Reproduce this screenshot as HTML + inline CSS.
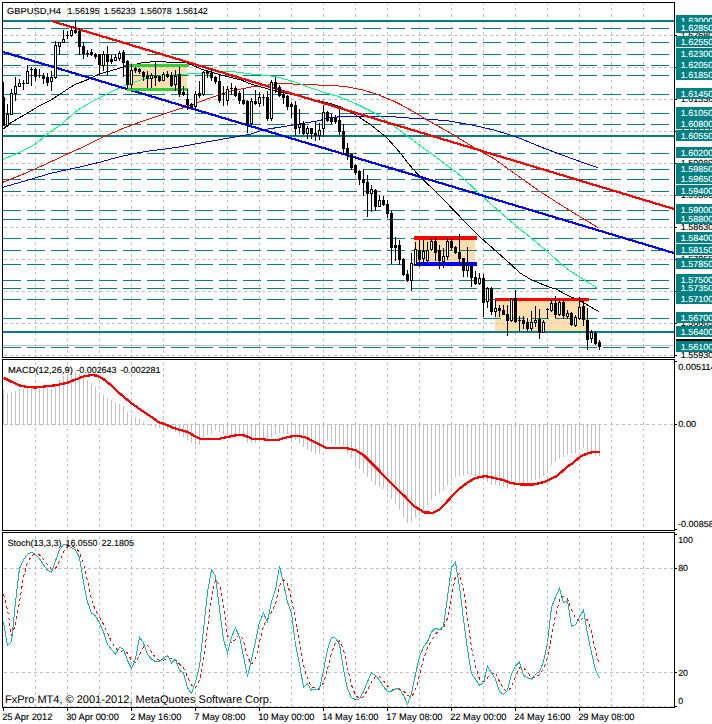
<!DOCTYPE html>
<html><head><meta charset="utf-8"><title>GBPUSD,H4</title>
<style>html,body{margin:0;padding:0;background:#fff}body{width:712px;height:724px;overflow:hidden;font-family:"Liberation Sans",sans-serif}svg{display:block}</style></head>
<body>
<svg width="712" height="724" viewBox="0 0 712 724" shape-rendering="crispEdges">
<defs>
<clipPath id="cm"><rect x="3" y="3" width="671" height="354"/></clipPath>
<clipPath id="c2"><rect x="3" y="360" width="671" height="170"/></clipPath>
<clipPath id="c3"><rect x="3" y="533" width="671" height="174"/></clipPath>
<clipPath id="cr"><rect x="675" y="0" width="37" height="724"/></clipPath>
</defs>
<rect width="712" height="724" fill="#fff"/>
<g clip-path="url(#cm)">
<line x1="35.5" y1="3" x2="35.5" y2="357" stroke="#c0c0c0" stroke-width="1" stroke-dasharray="3 3" stroke-dashoffset="1"/>
<line x1="67.5" y1="3" x2="67.5" y2="357" stroke="#c0c0c0" stroke-width="1" stroke-dasharray="3 3" stroke-dashoffset="1"/>
<line x1="99.5" y1="3" x2="99.5" y2="357" stroke="#c0c0c0" stroke-width="1" stroke-dasharray="3 3" stroke-dashoffset="1"/>
<line x1="131.5" y1="3" x2="131.5" y2="357" stroke="#c0c0c0" stroke-width="1" stroke-dasharray="3 3" stroke-dashoffset="1"/>
<line x1="163.5" y1="3" x2="163.5" y2="357" stroke="#c0c0c0" stroke-width="1" stroke-dasharray="3 3" stroke-dashoffset="1"/>
<line x1="195.5" y1="3" x2="195.5" y2="357" stroke="#c0c0c0" stroke-width="1" stroke-dasharray="3 3" stroke-dashoffset="1"/>
<line x1="227.5" y1="3" x2="227.5" y2="357" stroke="#c0c0c0" stroke-width="1" stroke-dasharray="3 3" stroke-dashoffset="1"/>
<line x1="259.5" y1="3" x2="259.5" y2="357" stroke="#c0c0c0" stroke-width="1" stroke-dasharray="3 3" stroke-dashoffset="1"/>
<line x1="291.5" y1="3" x2="291.5" y2="357" stroke="#c0c0c0" stroke-width="1" stroke-dasharray="3 3" stroke-dashoffset="1"/>
<line x1="323.5" y1="3" x2="323.5" y2="357" stroke="#c0c0c0" stroke-width="1" stroke-dasharray="3 3" stroke-dashoffset="1"/>
<line x1="355.5" y1="3" x2="355.5" y2="357" stroke="#c0c0c0" stroke-width="1" stroke-dasharray="3 3" stroke-dashoffset="1"/>
<line x1="387.5" y1="3" x2="387.5" y2="357" stroke="#c0c0c0" stroke-width="1" stroke-dasharray="3 3" stroke-dashoffset="1"/>
<line x1="419.5" y1="3" x2="419.5" y2="357" stroke="#c0c0c0" stroke-width="1" stroke-dasharray="3 3" stroke-dashoffset="1"/>
<line x1="451.5" y1="3" x2="451.5" y2="357" stroke="#c0c0c0" stroke-width="1" stroke-dasharray="3 3" stroke-dashoffset="1"/>
<line x1="483.5" y1="3" x2="483.5" y2="357" stroke="#c0c0c0" stroke-width="1" stroke-dasharray="3 3" stroke-dashoffset="1"/>
<line x1="515.5" y1="3" x2="515.5" y2="357" stroke="#c0c0c0" stroke-width="1" stroke-dasharray="3 3" stroke-dashoffset="1"/>
<line x1="547.5" y1="3" x2="547.5" y2="357" stroke="#c0c0c0" stroke-width="1" stroke-dasharray="3 3" stroke-dashoffset="1"/>
<line x1="579.5" y1="3" x2="579.5" y2="357" stroke="#c0c0c0" stroke-width="1" stroke-dasharray="3 3" stroke-dashoffset="1"/>
<line x1="611.5" y1="3" x2="611.5" y2="357" stroke="#c0c0c0" stroke-width="1" stroke-dasharray="3 3" stroke-dashoffset="1"/>
<line x1="643.5" y1="3" x2="643.5" y2="357" stroke="#c0c0c0" stroke-width="1" stroke-dasharray="3 3" stroke-dashoffset="1"/>
<line x1="3" y1="35.5" x2="674" y2="35.5" stroke="#c0c0c0" stroke-width="1" stroke-dasharray="3 3" stroke-dashoffset="5"/>
<line x1="3" y1="67.5" x2="674" y2="67.5" stroke="#c0c0c0" stroke-width="1" stroke-dasharray="3 3" stroke-dashoffset="5"/>
<line x1="3" y1="99.5" x2="674" y2="99.5" stroke="#c0c0c0" stroke-width="1" stroke-dasharray="3 3" stroke-dashoffset="5"/>
<line x1="3" y1="131.5" x2="674" y2="131.5" stroke="#c0c0c0" stroke-width="1" stroke-dasharray="3 3" stroke-dashoffset="5"/>
<line x1="3" y1="163.5" x2="674" y2="163.5" stroke="#c0c0c0" stroke-width="1" stroke-dasharray="3 3" stroke-dashoffset="5"/>
<line x1="3" y1="195.5" x2="674" y2="195.5" stroke="#c0c0c0" stroke-width="1" stroke-dasharray="3 3" stroke-dashoffset="5"/>
<line x1="3" y1="227.5" x2="674" y2="227.5" stroke="#c0c0c0" stroke-width="1" stroke-dasharray="3 3" stroke-dashoffset="5"/>
<line x1="3" y1="259.5" x2="674" y2="259.5" stroke="#c0c0c0" stroke-width="1" stroke-dasharray="3 3" stroke-dashoffset="5"/>
<line x1="3" y1="291.5" x2="674" y2="291.5" stroke="#c0c0c0" stroke-width="1" stroke-dasharray="3 3" stroke-dashoffset="5"/>
<line x1="3" y1="323.5" x2="674" y2="323.5" stroke="#c0c0c0" stroke-width="1" stroke-dasharray="3 3" stroke-dashoffset="5"/>
<line x1="3" y1="355.5" x2="674" y2="355.5" stroke="#c0c0c0" stroke-width="1" stroke-dasharray="3 3" stroke-dashoffset="5"/>
<rect x="127" y="67" width="60" height="21" fill="#FFDEAD"/>
<rect x="131" y="68" width="1" height="1" fill="#c4e29a"/>
<rect x="131" y="69" width="1" height="1" fill="#c4e29a"/>
<rect x="131" y="70" width="1" height="1" fill="#c4e29a"/>
<rect x="131" y="74" width="1" height="1" fill="#c4e29a"/>
<rect x="131" y="75" width="1" height="1" fill="#c4e29a"/>
<rect x="131" y="76" width="1" height="1" fill="#c4e29a"/>
<rect x="131" y="80" width="1" height="1" fill="#c4e29a"/>
<rect x="131" y="81" width="1" height="1" fill="#c4e29a"/>
<rect x="131" y="82" width="1" height="1" fill="#c4e29a"/>
<rect x="131" y="86" width="1" height="1" fill="#c4e29a"/>
<rect x="131" y="87" width="1" height="1" fill="#c4e29a"/>
<rect x="163" y="68" width="1" height="1" fill="#c4e29a"/>
<rect x="163" y="69" width="1" height="1" fill="#c4e29a"/>
<rect x="163" y="70" width="1" height="1" fill="#c4e29a"/>
<rect x="163" y="74" width="1" height="1" fill="#c4e29a"/>
<rect x="163" y="75" width="1" height="1" fill="#c4e29a"/>
<rect x="163" y="76" width="1" height="1" fill="#c4e29a"/>
<rect x="163" y="80" width="1" height="1" fill="#c4e29a"/>
<rect x="163" y="81" width="1" height="1" fill="#c4e29a"/>
<rect x="163" y="82" width="1" height="1" fill="#c4e29a"/>
<rect x="163" y="86" width="1" height="1" fill="#c4e29a"/>
<rect x="163" y="87" width="1" height="1" fill="#c4e29a"/>
<rect x="130" y="67" width="1" height="1" fill="#c6cbd6"/>
<rect x="131" y="67" width="1" height="1" fill="#c6cbd6"/>
<rect x="132" y="67" width="1" height="1" fill="#c6cbd6"/>
<rect x="136" y="67" width="1" height="1" fill="#c6cbd6"/>
<rect x="137" y="67" width="1" height="1" fill="#c6cbd6"/>
<rect x="138" y="67" width="1" height="1" fill="#c6cbd6"/>
<rect x="142" y="67" width="1" height="1" fill="#c6cbd6"/>
<rect x="143" y="67" width="1" height="1" fill="#c6cbd6"/>
<rect x="144" y="67" width="1" height="1" fill="#c6cbd6"/>
<rect x="148" y="67" width="1" height="1" fill="#c6cbd6"/>
<rect x="149" y="67" width="1" height="1" fill="#c6cbd6"/>
<rect x="150" y="67" width="1" height="1" fill="#c6cbd6"/>
<rect x="154" y="67" width="1" height="1" fill="#c6cbd6"/>
<rect x="155" y="67" width="1" height="1" fill="#c6cbd6"/>
<rect x="156" y="67" width="1" height="1" fill="#c6cbd6"/>
<rect x="160" y="67" width="1" height="1" fill="#c6cbd6"/>
<rect x="161" y="67" width="1" height="1" fill="#c6cbd6"/>
<rect x="162" y="67" width="1" height="1" fill="#c6cbd6"/>
<rect x="166" y="67" width="1" height="1" fill="#c6cbd6"/>
<rect x="167" y="67" width="1" height="1" fill="#c6cbd6"/>
<rect x="168" y="67" width="1" height="1" fill="#c6cbd6"/>
<rect x="172" y="67" width="1" height="1" fill="#c6cbd6"/>
<rect x="173" y="67" width="1" height="1" fill="#c6cbd6"/>
<rect x="174" y="67" width="1" height="1" fill="#c6cbd6"/>
<rect x="178" y="67" width="1" height="1" fill="#c6cbd6"/>
<rect x="179" y="67" width="1" height="1" fill="#c6cbd6"/>
<rect x="180" y="67" width="1" height="1" fill="#c6cbd6"/>
<rect x="184" y="67" width="1" height="1" fill="#c6cbd6"/>
<rect x="185" y="67" width="1" height="1" fill="#c6cbd6"/>
<rect x="186" y="67" width="1" height="1" fill="#c6cbd6"/>
<rect x="414" y="240" width="61" height="22" fill="#FFDEAD"/>
<rect x="419" y="242" width="1" height="1" fill="#c4e29a"/>
<rect x="419" y="243" width="1" height="1" fill="#c4e29a"/>
<rect x="419" y="244" width="1" height="1" fill="#c4e29a"/>
<rect x="419" y="248" width="1" height="1" fill="#c4e29a"/>
<rect x="419" y="249" width="1" height="1" fill="#c4e29a"/>
<rect x="419" y="250" width="1" height="1" fill="#c4e29a"/>
<rect x="419" y="254" width="1" height="1" fill="#c4e29a"/>
<rect x="419" y="255" width="1" height="1" fill="#c4e29a"/>
<rect x="419" y="256" width="1" height="1" fill="#c4e29a"/>
<rect x="419" y="260" width="1" height="1" fill="#c4e29a"/>
<rect x="419" y="261" width="1" height="1" fill="#c4e29a"/>
<rect x="451" y="242" width="1" height="1" fill="#c4e29a"/>
<rect x="451" y="243" width="1" height="1" fill="#c4e29a"/>
<rect x="451" y="244" width="1" height="1" fill="#c4e29a"/>
<rect x="451" y="248" width="1" height="1" fill="#c4e29a"/>
<rect x="451" y="249" width="1" height="1" fill="#c4e29a"/>
<rect x="451" y="250" width="1" height="1" fill="#c4e29a"/>
<rect x="451" y="254" width="1" height="1" fill="#c4e29a"/>
<rect x="451" y="255" width="1" height="1" fill="#c4e29a"/>
<rect x="451" y="256" width="1" height="1" fill="#c4e29a"/>
<rect x="451" y="260" width="1" height="1" fill="#c4e29a"/>
<rect x="451" y="261" width="1" height="1" fill="#c4e29a"/>
<rect x="414" y="259" width="1" height="1" fill="#c6cbd6"/>
<rect x="418" y="259" width="1" height="1" fill="#c6cbd6"/>
<rect x="419" y="259" width="1" height="1" fill="#c6cbd6"/>
<rect x="420" y="259" width="1" height="1" fill="#c6cbd6"/>
<rect x="424" y="259" width="1" height="1" fill="#c6cbd6"/>
<rect x="425" y="259" width="1" height="1" fill="#c6cbd6"/>
<rect x="426" y="259" width="1" height="1" fill="#c6cbd6"/>
<rect x="430" y="259" width="1" height="1" fill="#c6cbd6"/>
<rect x="431" y="259" width="1" height="1" fill="#c6cbd6"/>
<rect x="432" y="259" width="1" height="1" fill="#c6cbd6"/>
<rect x="436" y="259" width="1" height="1" fill="#c6cbd6"/>
<rect x="437" y="259" width="1" height="1" fill="#c6cbd6"/>
<rect x="438" y="259" width="1" height="1" fill="#c6cbd6"/>
<rect x="442" y="259" width="1" height="1" fill="#c6cbd6"/>
<rect x="443" y="259" width="1" height="1" fill="#c6cbd6"/>
<rect x="444" y="259" width="1" height="1" fill="#c6cbd6"/>
<rect x="448" y="259" width="1" height="1" fill="#c6cbd6"/>
<rect x="449" y="259" width="1" height="1" fill="#c6cbd6"/>
<rect x="450" y="259" width="1" height="1" fill="#c6cbd6"/>
<rect x="454" y="259" width="1" height="1" fill="#c6cbd6"/>
<rect x="455" y="259" width="1" height="1" fill="#c6cbd6"/>
<rect x="456" y="259" width="1" height="1" fill="#c6cbd6"/>
<rect x="460" y="259" width="1" height="1" fill="#c6cbd6"/>
<rect x="461" y="259" width="1" height="1" fill="#c6cbd6"/>
<rect x="462" y="259" width="1" height="1" fill="#c6cbd6"/>
<rect x="466" y="259" width="1" height="1" fill="#c6cbd6"/>
<rect x="467" y="259" width="1" height="1" fill="#c6cbd6"/>
<rect x="468" y="259" width="1" height="1" fill="#c6cbd6"/>
<rect x="472" y="259" width="1" height="1" fill="#c6cbd6"/>
<rect x="473" y="259" width="1" height="1" fill="#c6cbd6"/>
<rect x="474" y="259" width="1" height="1" fill="#c6cbd6"/>
<rect x="495" y="301" width="92" height="30" fill="#FFDEAD"/>
<rect x="515" y="302" width="1" height="1" fill="#c4e29a"/>
<rect x="515" y="303" width="1" height="1" fill="#c4e29a"/>
<rect x="515" y="304" width="1" height="1" fill="#c4e29a"/>
<rect x="515" y="308" width="1" height="1" fill="#c4e29a"/>
<rect x="515" y="309" width="1" height="1" fill="#c4e29a"/>
<rect x="515" y="310" width="1" height="1" fill="#c4e29a"/>
<rect x="515" y="314" width="1" height="1" fill="#c4e29a"/>
<rect x="515" y="315" width="1" height="1" fill="#c4e29a"/>
<rect x="515" y="316" width="1" height="1" fill="#c4e29a"/>
<rect x="515" y="320" width="1" height="1" fill="#c4e29a"/>
<rect x="515" y="321" width="1" height="1" fill="#c4e29a"/>
<rect x="515" y="322" width="1" height="1" fill="#c4e29a"/>
<rect x="515" y="326" width="1" height="1" fill="#c4e29a"/>
<rect x="515" y="327" width="1" height="1" fill="#c4e29a"/>
<rect x="515" y="328" width="1" height="1" fill="#c4e29a"/>
<rect x="547" y="302" width="1" height="1" fill="#c4e29a"/>
<rect x="547" y="303" width="1" height="1" fill="#c4e29a"/>
<rect x="547" y="304" width="1" height="1" fill="#c4e29a"/>
<rect x="547" y="308" width="1" height="1" fill="#c4e29a"/>
<rect x="547" y="309" width="1" height="1" fill="#c4e29a"/>
<rect x="547" y="310" width="1" height="1" fill="#c4e29a"/>
<rect x="547" y="314" width="1" height="1" fill="#c4e29a"/>
<rect x="547" y="315" width="1" height="1" fill="#c4e29a"/>
<rect x="547" y="316" width="1" height="1" fill="#c4e29a"/>
<rect x="547" y="320" width="1" height="1" fill="#c4e29a"/>
<rect x="547" y="321" width="1" height="1" fill="#c4e29a"/>
<rect x="547" y="322" width="1" height="1" fill="#c4e29a"/>
<rect x="547" y="326" width="1" height="1" fill="#c4e29a"/>
<rect x="547" y="327" width="1" height="1" fill="#c4e29a"/>
<rect x="547" y="328" width="1" height="1" fill="#c4e29a"/>
<rect x="579" y="302" width="1" height="1" fill="#c4e29a"/>
<rect x="579" y="303" width="1" height="1" fill="#c4e29a"/>
<rect x="579" y="304" width="1" height="1" fill="#c4e29a"/>
<rect x="579" y="308" width="1" height="1" fill="#c4e29a"/>
<rect x="579" y="309" width="1" height="1" fill="#c4e29a"/>
<rect x="579" y="310" width="1" height="1" fill="#c4e29a"/>
<rect x="579" y="314" width="1" height="1" fill="#c4e29a"/>
<rect x="579" y="315" width="1" height="1" fill="#c4e29a"/>
<rect x="579" y="316" width="1" height="1" fill="#c4e29a"/>
<rect x="579" y="320" width="1" height="1" fill="#c4e29a"/>
<rect x="579" y="321" width="1" height="1" fill="#c4e29a"/>
<rect x="579" y="322" width="1" height="1" fill="#c4e29a"/>
<rect x="579" y="326" width="1" height="1" fill="#c4e29a"/>
<rect x="579" y="327" width="1" height="1" fill="#c4e29a"/>
<rect x="579" y="328" width="1" height="1" fill="#c4e29a"/>
<rect x="496" y="323" width="1" height="1" fill="#c6cbd6"/>
<rect x="497" y="323" width="1" height="1" fill="#c6cbd6"/>
<rect x="498" y="323" width="1" height="1" fill="#c6cbd6"/>
<rect x="502" y="323" width="1" height="1" fill="#c6cbd6"/>
<rect x="503" y="323" width="1" height="1" fill="#c6cbd6"/>
<rect x="504" y="323" width="1" height="1" fill="#c6cbd6"/>
<rect x="508" y="323" width="1" height="1" fill="#c6cbd6"/>
<rect x="509" y="323" width="1" height="1" fill="#c6cbd6"/>
<rect x="510" y="323" width="1" height="1" fill="#c6cbd6"/>
<rect x="514" y="323" width="1" height="1" fill="#c6cbd6"/>
<rect x="515" y="323" width="1" height="1" fill="#c6cbd6"/>
<rect x="516" y="323" width="1" height="1" fill="#c6cbd6"/>
<rect x="520" y="323" width="1" height="1" fill="#c6cbd6"/>
<rect x="521" y="323" width="1" height="1" fill="#c6cbd6"/>
<rect x="522" y="323" width="1" height="1" fill="#c6cbd6"/>
<rect x="526" y="323" width="1" height="1" fill="#c6cbd6"/>
<rect x="527" y="323" width="1" height="1" fill="#c6cbd6"/>
<rect x="528" y="323" width="1" height="1" fill="#c6cbd6"/>
<rect x="532" y="323" width="1" height="1" fill="#c6cbd6"/>
<rect x="533" y="323" width="1" height="1" fill="#c6cbd6"/>
<rect x="534" y="323" width="1" height="1" fill="#c6cbd6"/>
<rect x="538" y="323" width="1" height="1" fill="#c6cbd6"/>
<rect x="539" y="323" width="1" height="1" fill="#c6cbd6"/>
<rect x="540" y="323" width="1" height="1" fill="#c6cbd6"/>
<rect x="544" y="323" width="1" height="1" fill="#c6cbd6"/>
<rect x="545" y="323" width="1" height="1" fill="#c6cbd6"/>
<rect x="546" y="323" width="1" height="1" fill="#c6cbd6"/>
<rect x="550" y="323" width="1" height="1" fill="#c6cbd6"/>
<rect x="551" y="323" width="1" height="1" fill="#c6cbd6"/>
<rect x="552" y="323" width="1" height="1" fill="#c6cbd6"/>
<rect x="556" y="323" width="1" height="1" fill="#c6cbd6"/>
<rect x="557" y="323" width="1" height="1" fill="#c6cbd6"/>
<rect x="558" y="323" width="1" height="1" fill="#c6cbd6"/>
<rect x="562" y="323" width="1" height="1" fill="#c6cbd6"/>
<rect x="563" y="323" width="1" height="1" fill="#c6cbd6"/>
<rect x="564" y="323" width="1" height="1" fill="#c6cbd6"/>
<rect x="568" y="323" width="1" height="1" fill="#c6cbd6"/>
<rect x="569" y="323" width="1" height="1" fill="#c6cbd6"/>
<rect x="570" y="323" width="1" height="1" fill="#c6cbd6"/>
<rect x="574" y="323" width="1" height="1" fill="#c6cbd6"/>
<rect x="575" y="323" width="1" height="1" fill="#c6cbd6"/>
<rect x="576" y="323" width="1" height="1" fill="#c6cbd6"/>
<rect x="580" y="323" width="1" height="1" fill="#c6cbd6"/>
<rect x="581" y="323" width="1" height="1" fill="#c6cbd6"/>
<rect x="582" y="323" width="1" height="1" fill="#c6cbd6"/>
<rect x="586" y="323" width="1" height="1" fill="#c6cbd6"/>
<rect x="3" y="20" width="671" height="2" fill="#008080" />
<line x1="3" y1="28.5" x2="674" y2="28.5" stroke="#008080" stroke-width="1" stroke-dasharray="18 6"/>
<line x1="3" y1="42.5" x2="674" y2="42.5" stroke="#008080" stroke-width="1" stroke-dasharray="18 6"/>
<line x1="3" y1="54.5" x2="674" y2="54.5" stroke="#008080" stroke-width="1" stroke-dasharray="18 6"/>
<line x1="3" y1="65.5" x2="674" y2="65.5" stroke="#008080" stroke-width="1" stroke-dasharray="18 6"/>
<rect x="127" y="75" width="60" height="1" fill="#fff" />
<line x1="3" y1="75.5" x2="674" y2="75.5" stroke="#008080" stroke-width="1" stroke-dasharray="18 6"/>
<line x1="3" y1="94.5" x2="674" y2="94.5" stroke="#008080" stroke-width="1" stroke-dasharray="18 6"/>
<line x1="3" y1="113.5" x2="674" y2="113.5" stroke="#008080" stroke-width="1" stroke-dasharray="18 6"/>
<line x1="3" y1="124.5" x2="674" y2="124.5" stroke="#008080" stroke-width="1" stroke-dasharray="18 6"/>
<rect x="3" y="135" width="671" height="2" fill="#008080" />
<line x1="3" y1="153.5" x2="674" y2="153.5" stroke="#008080" stroke-width="1" stroke-dasharray="18 6"/>
<line x1="3" y1="169.5" x2="674" y2="169.5" stroke="#008080" stroke-width="1" stroke-dasharray="18 6"/>
<line x1="3" y1="179.5" x2="674" y2="179.5" stroke="#008080" stroke-width="1" stroke-dasharray="18 6"/>
<line x1="3" y1="191.5" x2="674" y2="191.5" stroke="#008080" stroke-width="1" stroke-dasharray="18 6"/>
<line x1="3" y1="210.5" x2="674" y2="210.5" stroke="#008080" stroke-width="1" stroke-dasharray="18 6"/>
<line x1="3" y1="219.5" x2="674" y2="219.5" stroke="#008080" stroke-width="1" stroke-dasharray="18 6"/>
<line x1="3" y1="238.5" x2="674" y2="238.5" stroke="#008080" stroke-width="1" stroke-dasharray="18 6"/>
<rect x="414" y="250" width="61" height="1" fill="#fff" />
<line x1="3" y1="250.5" x2="674" y2="250.5" stroke="#008080" stroke-width="1" stroke-dasharray="18 6"/>
<line x1="3" y1="264.5" x2="674" y2="264.5" stroke="#008080" stroke-width="1" stroke-dasharray="18 6"/>
<line x1="3" y1="280.5" x2="674" y2="280.5" stroke="#008080" stroke-width="1" stroke-dasharray="18 6"/>
<line x1="3" y1="288.5" x2="674" y2="288.5" stroke="#008080" stroke-width="1" stroke-dasharray="18 6"/>
<line x1="3" y1="299.5" x2="674" y2="299.5" stroke="#008080" stroke-width="1" stroke-dasharray="18 6"/>
<rect x="495" y="318" width="92" height="1" fill="#fff" />
<line x1="3" y1="318.5" x2="674" y2="318.5" stroke="#008080" stroke-width="1" stroke-dasharray="18 6"/>
<rect x="3" y="331" width="671" height="2" fill="#008080" />
<line x1="3" y1="347.5" x2="674" y2="347.5" stroke="#008080" stroke-width="1" stroke-dasharray="18 6"/>
<rect x="3" y="345" width="671" height="1" fill="#c0c0c0" />
<polyline points="3.0,187.2 25.3,180.9 50.6,173.3 68.3,169.5 83.4,166.2 101.1,161.9 116.3,157.6 134.0,153.6 151.7,150.6 165.0,149.0 180.0,146.8 209.7,141.4 249.5,134.4 264.9,129.6 289.7,125.5 313.0,121.7 320.0,120.5 326.6,118.2 344.9,116.2 369.7,116.0 389.6,116.2 400.0,117.5 423.6,118.9 447.2,120.7 470.8,124.8 494.4,130.1 518.0,137.5 541.6,147.3 565.2,156.1 582.9,162.6 598.2,167.9" fill="none" stroke="#0000ff" stroke-width="1" />
<polyline points="3.0,182.2 25.3,173.3 50.6,161.9 68.3,153.6 83.4,146.8 101.1,137.9 121.3,129.1 141.6,121.5 161.8,114.7 180.0,108.8 187.0,106.6 214.7,96.3 231.0,91.3 249.5,87.2 256.6,86.5 281.4,83.2 293.0,84.0 311.3,84.9 329.5,85.2 345.0,86.5 363.0,90.0 376.4,94.1 393.0,100.8 400.0,104.2 414.7,112.4 429.5,121.3 453.1,134.6 473.7,147.3 494.4,159.1 518.0,175.9 538.6,190.6 559.3,203.9 582.9,218.6 598.2,227.5" fill="none" stroke="#ff0000" stroke-width="1" />
<polyline points="3.0,159.4 17.7,153.1 35.4,144.2 50.6,131.6 61.9,124.0 75.8,111.4 89.5,102.9 100.0,97.5 123.0,86.3 143.0,79.3 160.0,76.0 187.0,74.0 203.0,73.0 225.5,71.1 240.0,72.4 249.5,73.9 261.5,74.9 275.6,76.6 294.7,81.9 311.3,88.2 329.5,94.0 336.6,95.8 355.6,103.6 376.4,114.0 391.3,124.0 400.0,130.7 414.7,141.4 435.4,156.7 459.0,174.4 479.6,193.6 497.3,209.8 518.0,227.5 532.7,239.3 546.5,250.8 558.1,261.5 569.7,270.7 583.0,279.0 597.1,288.1" fill="none" stroke="#00fa7a" stroke-width="1" />
<polyline points="3.0,129.2 10.1,123.3 17.0,119.0 25.0,114.6 32.0,110.3 38.0,106.6 51.8,99.5 58.0,95.4 74.6,84.6 80.0,82.6 89.5,78.8 100.0,73.8 123.0,67.2 141.0,63.0 155.0,61.4 169.5,62.2 187.3,63.0 203.0,69.8 226.0,76.4 240.0,79.6 249.5,83.5 256.6,85.7 269.8,89.5 290.0,94.0 314.6,99.8 329.5,103.4 340.0,106.6 355.6,114.9 369.7,124.0 386.3,137.2 399.6,152.2 409.5,164.9 417.7,174.4 434.6,190.7 447.8,204.0 459.0,215.7 473.0,230.0 482.6,239.3 494.7,249.9 509.6,263.2 520.0,273.0 530.0,279.0 539.9,283.4 550.7,287.7 555.6,288.9 569.7,296.4 581.3,301.3 589.6,306.3 598.7,311.6" fill="none" stroke="#000" stroke-width="1" />
<polygon points="51.5,19.85 674,207.838 674,210.138 51.5,22.15" fill="#ff0000"/>
<polygon points="3,50.7731 674,251.8718 674,254.17180000000002 3,53.0731" fill="#0000ff"/>
<rect x="127" y="64" width="62" height="3" fill="#32CD32" />
<rect x="127" y="88" width="61" height="3" fill="#32CD32" />
<rect x="414" y="236" width="63" height="4" fill="#ff0000" />
<rect x="414" y="262" width="63" height="4" fill="#0000ff" />
<rect x="495" y="298" width="94" height="3" fill="#ff0000" />
<rect x="3" y="82" width="1" height="44" fill="#000"/>
<rect x="2" y="97" width="3" height="29" fill="#000"/>
<rect x="7" y="104" width="1" height="23" fill="#000"/>
<rect x="6" y="114" width="3" height="12" fill="#000"/>
<rect x="7" y="115" width="1" height="10" fill="#fff"/>
<rect x="11" y="89" width="1" height="26" fill="#000"/>
<rect x="10" y="93" width="3" height="22" fill="#000"/>
<rect x="11" y="94" width="1" height="20" fill="#fff"/>
<rect x="15" y="77" width="1" height="24" fill="#000"/>
<rect x="14" y="86" width="3" height="8" fill="#000"/>
<rect x="15" y="87" width="1" height="6" fill="#fff"/>
<rect x="19" y="79" width="1" height="8" fill="#000"/>
<rect x="18" y="83" width="3" height="4" fill="#000"/>
<rect x="19" y="84" width="1" height="2" fill="#fff"/>
<rect x="23" y="80" width="1" height="10" fill="#000"/>
<rect x="22" y="83" width="3" height="1" fill="#000" />
<rect x="27" y="65" width="1" height="19" fill="#000"/>
<rect x="26" y="71" width="3" height="13" fill="#000"/>
<rect x="27" y="72" width="1" height="11" fill="#fff"/>
<rect x="31" y="67" width="1" height="19" fill="#000"/>
<rect x="30" y="69" width="3" height="1" fill="#000" />
<rect x="35" y="68" width="1" height="13" fill="#000"/>
<rect x="34" y="69" width="3" height="8" fill="#000"/>
<rect x="39" y="69" width="1" height="9" fill="#000"/>
<rect x="38" y="75" width="3" height="1" fill="#000" />
<rect x="43" y="73" width="1" height="11" fill="#000"/>
<rect x="42" y="76" width="3" height="3" fill="#000"/>
<rect x="47" y="73" width="1" height="13" fill="#000"/>
<rect x="46" y="77" width="3" height="6" fill="#000"/>
<rect x="51" y="71" width="1" height="20" fill="#000"/>
<rect x="50" y="77" width="3" height="5" fill="#000"/>
<rect x="51" y="78" width="1" height="3" fill="#fff"/>
<rect x="55" y="41" width="1" height="38" fill="#000"/>
<rect x="54" y="45" width="3" height="33" fill="#000"/>
<rect x="55" y="46" width="1" height="31" fill="#fff"/>
<rect x="59" y="42" width="1" height="13" fill="#000"/>
<rect x="58" y="42" width="3" height="5" fill="#000"/>
<rect x="59" y="43" width="1" height="3" fill="#fff"/>
<rect x="63" y="30" width="1" height="13" fill="#000"/>
<rect x="62" y="39" width="3" height="4" fill="#000"/>
<rect x="63" y="40" width="1" height="2" fill="#fff"/>
<rect x="67" y="31" width="1" height="8" fill="#000"/>
<rect x="66" y="35" width="3" height="1" fill="#000" />
<rect x="71" y="26" width="1" height="11" fill="#000"/>
<rect x="70" y="30" width="3" height="6" fill="#000"/>
<rect x="71" y="31" width="1" height="4" fill="#fff"/>
<rect x="75" y="20" width="1" height="14" fill="#000"/>
<rect x="74" y="30" width="3" height="3" fill="#000"/>
<rect x="79" y="28" width="1" height="27" fill="#000"/>
<rect x="78" y="31" width="3" height="16" fill="#000"/>
<rect x="83" y="42" width="1" height="17" fill="#000"/>
<rect x="82" y="46" width="3" height="8" fill="#000"/>
<rect x="87" y="50" width="1" height="7" fill="#000"/>
<rect x="86" y="53" width="3" height="1" fill="#000" />
<rect x="91" y="49" width="1" height="7" fill="#000"/>
<rect x="90" y="52" width="3" height="3" fill="#000"/>
<rect x="95" y="53" width="1" height="6" fill="#000"/>
<rect x="94" y="54" width="3" height="3" fill="#000"/>
<rect x="99" y="54" width="1" height="20" fill="#000"/>
<rect x="98" y="54" width="3" height="11" fill="#000"/>
<rect x="103" y="51" width="1" height="20" fill="#000"/>
<rect x="102" y="54" width="3" height="12" fill="#000"/>
<rect x="103" y="55" width="1" height="10" fill="#fff"/>
<rect x="107" y="46" width="1" height="30" fill="#000"/>
<rect x="106" y="54" width="3" height="8" fill="#000"/>
<rect x="111" y="55" width="1" height="9" fill="#000"/>
<rect x="110" y="59" width="3" height="3" fill="#000"/>
<rect x="115" y="54" width="1" height="7" fill="#000"/>
<rect x="114" y="57" width="3" height="4" fill="#000"/>
<rect x="115" y="58" width="1" height="2" fill="#fff"/>
<rect x="119" y="51" width="1" height="10" fill="#000"/>
<rect x="118" y="53" width="3" height="6" fill="#000"/>
<rect x="119" y="54" width="1" height="4" fill="#fff"/>
<rect x="123" y="50" width="1" height="27" fill="#000"/>
<rect x="122" y="52" width="3" height="11" fill="#000"/>
<rect x="127" y="60" width="1" height="29" fill="#000"/>
<rect x="126" y="61" width="3" height="24" fill="#000"/>
<rect x="131" y="64" width="1" height="25" fill="#000"/>
<rect x="130" y="70" width="3" height="15" fill="#000"/>
<rect x="131" y="71" width="1" height="13" fill="#fff"/>
<rect x="135" y="67" width="1" height="6" fill="#000"/>
<rect x="134" y="68" width="3" height="3" fill="#000"/>
<rect x="139" y="68" width="1" height="6" fill="#000"/>
<rect x="138" y="69" width="3" height="3" fill="#000"/>
<rect x="143" y="71" width="1" height="10" fill="#000"/>
<rect x="142" y="72" width="3" height="5" fill="#000"/>
<rect x="147" y="71" width="1" height="17" fill="#000"/>
<rect x="146" y="75" width="3" height="4" fill="#000"/>
<rect x="151" y="73" width="1" height="15" fill="#000"/>
<rect x="150" y="75" width="3" height="4" fill="#000"/>
<rect x="151" y="76" width="1" height="2" fill="#fff"/>
<rect x="155" y="61" width="1" height="25" fill="#000"/>
<rect x="154" y="76" width="3" height="2" fill="#000"/>
<rect x="159" y="76" width="1" height="6" fill="#000"/>
<rect x="158" y="76" width="3" height="5" fill="#000"/>
<rect x="163" y="72" width="1" height="9" fill="#000"/>
<rect x="162" y="74" width="3" height="7" fill="#000"/>
<rect x="163" y="75" width="1" height="5" fill="#fff"/>
<rect x="167" y="71" width="1" height="7" fill="#000"/>
<rect x="166" y="74" width="3" height="3" fill="#000"/>
<rect x="171" y="72" width="1" height="15" fill="#000"/>
<rect x="170" y="75" width="3" height="11" fill="#000"/>
<rect x="175" y="70" width="1" height="21" fill="#000"/>
<rect x="174" y="76" width="3" height="9" fill="#000"/>
<rect x="175" y="77" width="1" height="7" fill="#fff"/>
<rect x="179" y="67" width="1" height="30" fill="#000"/>
<rect x="178" y="74" width="3" height="20" fill="#000"/>
<rect x="183" y="86" width="1" height="10" fill="#000"/>
<rect x="182" y="92" width="3" height="3" fill="#000"/>
<rect x="187" y="89" width="1" height="21" fill="#000"/>
<rect x="186" y="99" width="3" height="6" fill="#000"/>
<rect x="191" y="103" width="1" height="5" fill="#000"/>
<rect x="190" y="104" width="3" height="4" fill="#000"/>
<rect x="195" y="91" width="1" height="20" fill="#000"/>
<rect x="194" y="94" width="3" height="13" fill="#000"/>
<rect x="195" y="95" width="1" height="11" fill="#fff"/>
<rect x="199" y="81" width="1" height="17" fill="#000"/>
<rect x="198" y="93" width="3" height="3" fill="#000"/>
<rect x="203" y="71" width="1" height="25" fill="#000"/>
<rect x="202" y="72" width="3" height="23" fill="#000"/>
<rect x="203" y="73" width="1" height="21" fill="#fff"/>
<rect x="207" y="70" width="1" height="8" fill="#000"/>
<rect x="206" y="71" width="3" height="3" fill="#000"/>
<rect x="211" y="69" width="1" height="12" fill="#000"/>
<rect x="210" y="73" width="3" height="5" fill="#000"/>
<rect x="215" y="76" width="1" height="8" fill="#000"/>
<rect x="214" y="77" width="3" height="5" fill="#000"/>
<rect x="219" y="75" width="1" height="28" fill="#000"/>
<rect x="218" y="81" width="3" height="20" fill="#000"/>
<rect x="223" y="86" width="1" height="20" fill="#000"/>
<rect x="222" y="93" width="3" height="1" fill="#000" />
<rect x="227" y="86" width="1" height="19" fill="#000"/>
<rect x="226" y="89" width="3" height="12" fill="#000"/>
<rect x="227" y="90" width="1" height="10" fill="#fff"/>
<rect x="231" y="83" width="1" height="12" fill="#000"/>
<rect x="230" y="88" width="3" height="1" fill="#000" />
<rect x="235" y="86" width="1" height="11" fill="#000"/>
<rect x="234" y="88" width="3" height="8" fill="#000"/>
<rect x="239" y="91" width="1" height="13" fill="#000"/>
<rect x="238" y="93" width="3" height="8" fill="#000"/>
<rect x="243" y="89" width="1" height="16" fill="#000"/>
<rect x="242" y="100" width="3" height="4" fill="#000"/>
<rect x="247" y="100" width="1" height="33" fill="#000"/>
<rect x="246" y="101" width="3" height="23" fill="#000"/>
<rect x="251" y="98" width="1" height="27" fill="#000"/>
<rect x="250" y="101" width="3" height="23" fill="#000"/>
<rect x="251" y="102" width="1" height="21" fill="#fff"/>
<rect x="255" y="90" width="1" height="15" fill="#000"/>
<rect x="254" y="101" width="3" height="3" fill="#000"/>
<rect x="259" y="92" width="1" height="15" fill="#000"/>
<rect x="258" y="97" width="3" height="7" fill="#000"/>
<rect x="259" y="98" width="1" height="5" fill="#fff"/>
<rect x="263" y="94" width="1" height="12" fill="#000"/>
<rect x="262" y="97" width="3" height="1" fill="#000" />
<rect x="267" y="91" width="1" height="30" fill="#000"/>
<rect x="266" y="97" width="3" height="22" fill="#000"/>
<rect x="271" y="80" width="1" height="41" fill="#000"/>
<rect x="270" y="82" width="3" height="37" fill="#000"/>
<rect x="271" y="83" width="1" height="35" fill="#fff"/>
<rect x="275" y="77" width="1" height="16" fill="#000"/>
<rect x="274" y="82" width="3" height="7" fill="#000"/>
<rect x="279" y="85" width="1" height="12" fill="#000"/>
<rect x="278" y="87" width="3" height="9" fill="#000"/>
<rect x="283" y="91" width="1" height="13" fill="#000"/>
<rect x="282" y="94" width="3" height="4" fill="#000"/>
<rect x="287" y="95" width="1" height="15" fill="#000"/>
<rect x="286" y="96" width="3" height="11" fill="#000"/>
<rect x="291" y="102" width="1" height="16" fill="#000"/>
<rect x="290" y="104" width="3" height="3" fill="#000"/>
<rect x="295" y="101" width="1" height="35" fill="#000"/>
<rect x="294" y="105" width="3" height="24" fill="#000"/>
<rect x="299" y="109" width="1" height="25" fill="#000"/>
<rect x="298" y="124" width="3" height="4" fill="#000"/>
<rect x="299" y="125" width="1" height="2" fill="#fff"/>
<rect x="303" y="121" width="1" height="14" fill="#000"/>
<rect x="302" y="123" width="3" height="11" fill="#000"/>
<rect x="307" y="126" width="1" height="13" fill="#000"/>
<rect x="306" y="128" width="3" height="6" fill="#000"/>
<rect x="307" y="129" width="1" height="4" fill="#fff"/>
<rect x="311" y="128" width="1" height="11" fill="#000"/>
<rect x="310" y="128" width="3" height="6" fill="#000"/>
<rect x="315" y="122" width="1" height="19" fill="#000"/>
<rect x="314" y="133" width="3" height="3" fill="#000"/>
<rect x="319" y="123" width="1" height="17" fill="#000"/>
<rect x="318" y="130" width="3" height="6" fill="#000"/>
<rect x="319" y="131" width="1" height="4" fill="#fff"/>
<rect x="323" y="105" width="1" height="32" fill="#000"/>
<rect x="322" y="112" width="3" height="17" fill="#000"/>
<rect x="323" y="113" width="1" height="15" fill="#fff"/>
<rect x="327" y="111" width="1" height="11" fill="#000"/>
<rect x="326" y="112" width="3" height="9" fill="#000"/>
<rect x="331" y="114" width="1" height="10" fill="#000"/>
<rect x="330" y="118" width="3" height="4" fill="#000"/>
<rect x="335" y="115" width="1" height="9" fill="#000"/>
<rect x="334" y="118" width="3" height="4" fill="#000"/>
<rect x="339" y="109" width="1" height="26" fill="#000"/>
<rect x="338" y="120" width="3" height="12" fill="#000"/>
<rect x="343" y="124" width="1" height="29" fill="#000"/>
<rect x="342" y="131" width="3" height="18" fill="#000"/>
<rect x="347" y="143" width="1" height="17" fill="#000"/>
<rect x="346" y="148" width="3" height="7" fill="#000"/>
<rect x="351" y="153" width="1" height="17" fill="#000"/>
<rect x="350" y="154" width="3" height="14" fill="#000"/>
<rect x="355" y="164" width="1" height="11" fill="#000"/>
<rect x="354" y="165" width="3" height="8" fill="#000"/>
<rect x="359" y="170" width="1" height="15" fill="#000"/>
<rect x="358" y="171" width="3" height="9" fill="#000"/>
<rect x="363" y="169" width="1" height="27" fill="#000"/>
<rect x="362" y="179" width="3" height="4" fill="#000"/>
<rect x="367" y="175" width="1" height="42" fill="#000"/>
<rect x="366" y="182" width="3" height="12" fill="#000"/>
<rect x="371" y="185" width="1" height="27" fill="#000"/>
<rect x="370" y="189" width="3" height="5" fill="#000"/>
<rect x="371" y="190" width="1" height="3" fill="#fff"/>
<rect x="375" y="189" width="1" height="22" fill="#000"/>
<rect x="374" y="190" width="3" height="17" fill="#000"/>
<rect x="379" y="195" width="1" height="12" fill="#000"/>
<rect x="378" y="200" width="3" height="7" fill="#000"/>
<rect x="379" y="201" width="1" height="5" fill="#fff"/>
<rect x="383" y="196" width="1" height="10" fill="#000"/>
<rect x="382" y="200" width="3" height="5" fill="#000"/>
<rect x="387" y="200" width="1" height="18" fill="#000"/>
<rect x="386" y="204" width="3" height="10" fill="#000"/>
<rect x="391" y="211" width="1" height="53" fill="#000"/>
<rect x="390" y="213" width="3" height="35" fill="#000"/>
<rect x="395" y="237" width="1" height="24" fill="#000"/>
<rect x="394" y="245" width="3" height="3" fill="#000"/>
<rect x="399" y="240" width="1" height="25" fill="#000"/>
<rect x="398" y="245" width="3" height="15" fill="#000"/>
<rect x="403" y="258" width="1" height="18" fill="#000"/>
<rect x="402" y="259" width="3" height="16" fill="#000"/>
<rect x="407" y="270" width="1" height="12" fill="#000"/>
<rect x="406" y="274" width="3" height="7" fill="#000"/>
<rect x="411" y="253" width="1" height="38" fill="#000"/>
<rect x="410" y="263" width="3" height="18" fill="#000"/>
<rect x="411" y="264" width="1" height="16" fill="#fff"/>
<rect x="415" y="242" width="1" height="23" fill="#000"/>
<rect x="414" y="249" width="3" height="16" fill="#000"/>
<rect x="415" y="250" width="1" height="14" fill="#fff"/>
<rect x="419" y="240" width="1" height="27" fill="#000"/>
<rect x="418" y="250" width="3" height="10" fill="#000"/>
<rect x="423" y="240" width="1" height="24" fill="#000"/>
<rect x="422" y="251" width="3" height="8" fill="#000"/>
<rect x="423" y="252" width="1" height="6" fill="#fff"/>
<rect x="427" y="242" width="1" height="20" fill="#000"/>
<rect x="426" y="250" width="3" height="11" fill="#000"/>
<rect x="427" y="251" width="1" height="9" fill="#fff"/>
<rect x="431" y="239" width="1" height="12" fill="#000"/>
<rect x="430" y="241" width="3" height="9" fill="#000"/>
<rect x="431" y="242" width="1" height="7" fill="#fff"/>
<rect x="435" y="238" width="1" height="23" fill="#000"/>
<rect x="434" y="241" width="3" height="12" fill="#000"/>
<rect x="439" y="245" width="1" height="24" fill="#000"/>
<rect x="438" y="250" width="3" height="11" fill="#000"/>
<rect x="443" y="248" width="1" height="20" fill="#000"/>
<rect x="442" y="256" width="3" height="6" fill="#000"/>
<rect x="443" y="257" width="1" height="4" fill="#fff"/>
<rect x="447" y="238" width="1" height="22" fill="#000"/>
<rect x="446" y="241" width="3" height="16" fill="#000"/>
<rect x="447" y="242" width="1" height="14" fill="#fff"/>
<rect x="451" y="239" width="1" height="11" fill="#000"/>
<rect x="450" y="241" width="3" height="7" fill="#000"/>
<rect x="455" y="246" width="1" height="8" fill="#000"/>
<rect x="454" y="247" width="3" height="6" fill="#000"/>
<rect x="459" y="234" width="1" height="29" fill="#000"/>
<rect x="458" y="252" width="3" height="7" fill="#000"/>
<rect x="463" y="258" width="1" height="19" fill="#000"/>
<rect x="462" y="258" width="3" height="13" fill="#000"/>
<rect x="467" y="247" width="1" height="30" fill="#000"/>
<rect x="466" y="265" width="3" height="6" fill="#000"/>
<rect x="467" y="266" width="1" height="4" fill="#fff"/>
<rect x="471" y="265" width="1" height="22" fill="#000"/>
<rect x="470" y="266" width="3" height="12" fill="#000"/>
<rect x="475" y="271" width="1" height="14" fill="#000"/>
<rect x="474" y="277" width="3" height="7" fill="#000"/>
<rect x="479" y="273" width="1" height="12" fill="#000"/>
<rect x="478" y="278" width="3" height="6" fill="#000"/>
<rect x="479" y="279" width="1" height="4" fill="#fff"/>
<rect x="483" y="274" width="1" height="43" fill="#000"/>
<rect x="482" y="278" width="3" height="25" fill="#000"/>
<rect x="487" y="287" width="1" height="21" fill="#000"/>
<rect x="486" y="288" width="3" height="14" fill="#000"/>
<rect x="487" y="289" width="1" height="12" fill="#fff"/>
<rect x="491" y="287" width="1" height="28" fill="#000"/>
<rect x="490" y="288" width="3" height="24" fill="#000"/>
<rect x="495" y="300" width="1" height="17" fill="#000"/>
<rect x="494" y="308" width="3" height="4" fill="#000"/>
<rect x="495" y="309" width="1" height="2" fill="#fff"/>
<rect x="499" y="305" width="1" height="12" fill="#000"/>
<rect x="498" y="308" width="3" height="3" fill="#000"/>
<rect x="503" y="305" width="1" height="10" fill="#000"/>
<rect x="502" y="310" width="3" height="5" fill="#000"/>
<rect x="507" y="305" width="1" height="31" fill="#000"/>
<rect x="506" y="314" width="3" height="7" fill="#000"/>
<rect x="511" y="298" width="1" height="24" fill="#000"/>
<rect x="510" y="299" width="3" height="22" fill="#000"/>
<rect x="511" y="300" width="1" height="20" fill="#fff"/>
<rect x="515" y="290" width="1" height="33" fill="#000"/>
<rect x="514" y="298" width="3" height="24" fill="#000"/>
<rect x="519" y="316" width="1" height="15" fill="#000"/>
<rect x="518" y="320" width="3" height="1" fill="#000" />
<rect x="523" y="316" width="1" height="13" fill="#000"/>
<rect x="522" y="320" width="3" height="4" fill="#000"/>
<rect x="527" y="318" width="1" height="13" fill="#000"/>
<rect x="526" y="322" width="3" height="7" fill="#000"/>
<rect x="531" y="311" width="1" height="20" fill="#000"/>
<rect x="530" y="322" width="3" height="7" fill="#000"/>
<rect x="531" y="323" width="1" height="5" fill="#fff"/>
<rect x="535" y="306" width="1" height="21" fill="#000"/>
<rect x="534" y="320" width="3" height="3" fill="#000"/>
<rect x="535" y="321" width="1" height="1" fill="#fff"/>
<rect x="539" y="309" width="1" height="30" fill="#000"/>
<rect x="538" y="319" width="3" height="14" fill="#000"/>
<rect x="543" y="320" width="1" height="13" fill="#000"/>
<rect x="542" y="322" width="3" height="11" fill="#000"/>
<rect x="543" y="323" width="1" height="9" fill="#fff"/>
<rect x="547" y="308" width="1" height="11" fill="#000"/>
<rect x="546" y="309" width="3" height="1" fill="#000" />
<rect x="551" y="300" width="1" height="12" fill="#000"/>
<rect x="550" y="303" width="3" height="8" fill="#000"/>
<rect x="551" y="304" width="1" height="6" fill="#fff"/>
<rect x="555" y="296" width="1" height="22" fill="#000"/>
<rect x="554" y="303" width="3" height="12" fill="#000"/>
<rect x="559" y="299" width="1" height="17" fill="#000"/>
<rect x="558" y="302" width="3" height="13" fill="#000"/>
<rect x="559" y="303" width="1" height="11" fill="#fff"/>
<rect x="563" y="301" width="1" height="18" fill="#000"/>
<rect x="562" y="302" width="3" height="14" fill="#000"/>
<rect x="567" y="310" width="1" height="9" fill="#000"/>
<rect x="566" y="313" width="3" height="4" fill="#000"/>
<rect x="567" y="314" width="1" height="2" fill="#fff"/>
<rect x="571" y="312" width="1" height="14" fill="#000"/>
<rect x="570" y="313" width="3" height="12" fill="#000"/>
<rect x="575" y="315" width="1" height="12" fill="#000"/>
<rect x="574" y="317" width="3" height="9" fill="#000"/>
<rect x="575" y="318" width="1" height="7" fill="#fff"/>
<rect x="579" y="297" width="1" height="23" fill="#000"/>
<rect x="578" y="307" width="3" height="12" fill="#000"/>
<rect x="579" y="308" width="1" height="10" fill="#fff"/>
<rect x="583" y="301" width="1" height="25" fill="#000"/>
<rect x="582" y="306" width="3" height="14" fill="#000"/>
<rect x="587" y="308" width="1" height="42" fill="#000"/>
<rect x="586" y="320" width="3" height="20" fill="#000"/>
<rect x="591" y="330" width="1" height="13" fill="#000"/>
<rect x="590" y="332" width="3" height="7" fill="#000"/>
<rect x="591" y="333" width="1" height="5" fill="#fff"/>
<rect x="595" y="331" width="1" height="14" fill="#000"/>
<rect x="594" y="333" width="3" height="11" fill="#000"/>
<rect x="599" y="340" width="1" height="10" fill="#000"/>
<rect x="598" y="342" width="3" height="5" fill="#000"/>
</g>
<g clip-path="url(#c2)">
<line x1="35.5" y1="360" x2="35.5" y2="530" stroke="#c0c0c0" stroke-width="1" stroke-dasharray="3 3" stroke-dashoffset="4"/>
<line x1="67.5" y1="360" x2="67.5" y2="530" stroke="#c0c0c0" stroke-width="1" stroke-dasharray="3 3" stroke-dashoffset="4"/>
<line x1="99.5" y1="360" x2="99.5" y2="530" stroke="#c0c0c0" stroke-width="1" stroke-dasharray="3 3" stroke-dashoffset="4"/>
<line x1="131.5" y1="360" x2="131.5" y2="530" stroke="#c0c0c0" stroke-width="1" stroke-dasharray="3 3" stroke-dashoffset="4"/>
<line x1="163.5" y1="360" x2="163.5" y2="530" stroke="#c0c0c0" stroke-width="1" stroke-dasharray="3 3" stroke-dashoffset="4"/>
<line x1="195.5" y1="360" x2="195.5" y2="530" stroke="#c0c0c0" stroke-width="1" stroke-dasharray="3 3" stroke-dashoffset="4"/>
<line x1="227.5" y1="360" x2="227.5" y2="530" stroke="#c0c0c0" stroke-width="1" stroke-dasharray="3 3" stroke-dashoffset="4"/>
<line x1="259.5" y1="360" x2="259.5" y2="530" stroke="#c0c0c0" stroke-width="1" stroke-dasharray="3 3" stroke-dashoffset="4"/>
<line x1="291.5" y1="360" x2="291.5" y2="530" stroke="#c0c0c0" stroke-width="1" stroke-dasharray="3 3" stroke-dashoffset="4"/>
<line x1="323.5" y1="360" x2="323.5" y2="530" stroke="#c0c0c0" stroke-width="1" stroke-dasharray="3 3" stroke-dashoffset="4"/>
<line x1="355.5" y1="360" x2="355.5" y2="530" stroke="#c0c0c0" stroke-width="1" stroke-dasharray="3 3" stroke-dashoffset="4"/>
<line x1="387.5" y1="360" x2="387.5" y2="530" stroke="#c0c0c0" stroke-width="1" stroke-dasharray="3 3" stroke-dashoffset="4"/>
<line x1="419.5" y1="360" x2="419.5" y2="530" stroke="#c0c0c0" stroke-width="1" stroke-dasharray="3 3" stroke-dashoffset="4"/>
<line x1="451.5" y1="360" x2="451.5" y2="530" stroke="#c0c0c0" stroke-width="1" stroke-dasharray="3 3" stroke-dashoffset="4"/>
<line x1="483.5" y1="360" x2="483.5" y2="530" stroke="#c0c0c0" stroke-width="1" stroke-dasharray="3 3" stroke-dashoffset="4"/>
<line x1="515.5" y1="360" x2="515.5" y2="530" stroke="#c0c0c0" stroke-width="1" stroke-dasharray="3 3" stroke-dashoffset="4"/>
<line x1="547.5" y1="360" x2="547.5" y2="530" stroke="#c0c0c0" stroke-width="1" stroke-dasharray="3 3" stroke-dashoffset="4"/>
<line x1="579.5" y1="360" x2="579.5" y2="530" stroke="#c0c0c0" stroke-width="1" stroke-dasharray="3 3" stroke-dashoffset="4"/>
<line x1="611.5" y1="360" x2="611.5" y2="530" stroke="#c0c0c0" stroke-width="1" stroke-dasharray="3 3" stroke-dashoffset="4"/>
<line x1="643.5" y1="360" x2="643.5" y2="530" stroke="#c0c0c0" stroke-width="1" stroke-dasharray="3 3" stroke-dashoffset="4"/>
<line x1="3" y1="424.5" x2="674" y2="424.5" stroke="#c0c0c0" stroke-width="1" stroke-dasharray="3 3" stroke-dashoffset="5"/>
<rect x="3" y="389" width="1" height="36" fill="#c0c0c0"/>
<rect x="7" y="393" width="1" height="32" fill="#c0c0c0"/>
<rect x="11" y="392" width="1" height="33" fill="#c0c0c0"/>
<rect x="15" y="391" width="1" height="34" fill="#c0c0c0"/>
<rect x="19" y="389" width="1" height="36" fill="#c0c0c0"/>
<rect x="23" y="389" width="1" height="36" fill="#c0c0c0"/>
<rect x="27" y="388" width="1" height="37" fill="#c0c0c0"/>
<rect x="31" y="388" width="1" height="37" fill="#c0c0c0"/>
<rect x="35" y="388" width="1" height="37" fill="#c0c0c0"/>
<rect x="39" y="389" width="1" height="36" fill="#c0c0c0"/>
<rect x="43" y="389" width="1" height="36" fill="#c0c0c0"/>
<rect x="47" y="388" width="1" height="37" fill="#c0c0c0"/>
<rect x="51" y="389" width="1" height="36" fill="#c0c0c0"/>
<rect x="55" y="384" width="1" height="41" fill="#c0c0c0"/>
<rect x="59" y="380" width="1" height="45" fill="#c0c0c0"/>
<rect x="63" y="376" width="1" height="49" fill="#c0c0c0"/>
<rect x="67" y="374" width="1" height="51" fill="#c0c0c0"/>
<rect x="71" y="372" width="1" height="53" fill="#c0c0c0"/>
<rect x="75" y="372" width="1" height="53" fill="#c0c0c0"/>
<rect x="79" y="374" width="1" height="51" fill="#c0c0c0"/>
<rect x="83" y="378" width="1" height="47" fill="#c0c0c0"/>
<rect x="87" y="380" width="1" height="45" fill="#c0c0c0"/>
<rect x="91" y="383" width="1" height="42" fill="#c0c0c0"/>
<rect x="95" y="387" width="1" height="38" fill="#c0c0c0"/>
<rect x="99" y="392" width="1" height="33" fill="#c0c0c0"/>
<rect x="103" y="395" width="1" height="30" fill="#c0c0c0"/>
<rect x="107" y="398" width="1" height="27" fill="#c0c0c0"/>
<rect x="111" y="400" width="1" height="25" fill="#c0c0c0"/>
<rect x="115" y="403" width="1" height="22" fill="#c0c0c0"/>
<rect x="119" y="404" width="1" height="21" fill="#c0c0c0"/>
<rect x="123" y="406" width="1" height="19" fill="#c0c0c0"/>
<rect x="127" y="412" width="1" height="13" fill="#c0c0c0"/>
<rect x="131" y="415" width="1" height="10" fill="#c0c0c0"/>
<rect x="135" y="417" width="1" height="8" fill="#c0c0c0"/>
<rect x="139" y="419" width="1" height="6" fill="#c0c0c0"/>
<rect x="143" y="422" width="1" height="3" fill="#c0c0c0"/>
<rect x="147" y="424" width="1" height="1" fill="#c0c0c0"/>
<rect x="151" y="424" width="1" height="2" fill="#c0c0c0"/>
<rect x="155" y="424" width="1" height="4" fill="#c0c0c0"/>
<rect x="159" y="424" width="1" height="4" fill="#c0c0c0"/>
<rect x="163" y="424" width="1" height="6" fill="#c0c0c0"/>
<rect x="167" y="424" width="1" height="5" fill="#c0c0c0"/>
<rect x="171" y="424" width="1" height="6" fill="#c0c0c0"/>
<rect x="175" y="424" width="1" height="8" fill="#c0c0c0"/>
<rect x="179" y="424" width="1" height="10" fill="#c0c0c0"/>
<rect x="183" y="424" width="1" height="13" fill="#c0c0c0"/>
<rect x="187" y="424" width="1" height="16" fill="#c0c0c0"/>
<rect x="191" y="424" width="1" height="19" fill="#c0c0c0"/>
<rect x="195" y="424" width="1" height="21" fill="#c0c0c0"/>
<rect x="199" y="424" width="1" height="21" fill="#c0c0c0"/>
<rect x="203" y="424" width="1" height="15" fill="#c0c0c0"/>
<rect x="207" y="424" width="1" height="11" fill="#c0c0c0"/>
<rect x="211" y="424" width="1" height="10" fill="#c0c0c0"/>
<rect x="215" y="424" width="1" height="6" fill="#c0c0c0"/>
<rect x="219" y="424" width="1" height="8" fill="#c0c0c0"/>
<rect x="223" y="424" width="1" height="10" fill="#c0c0c0"/>
<rect x="227" y="424" width="1" height="12" fill="#c0c0c0"/>
<rect x="231" y="424" width="1" height="12" fill="#c0c0c0"/>
<rect x="235" y="424" width="1" height="12" fill="#c0c0c0"/>
<rect x="239" y="424" width="1" height="13" fill="#c0c0c0"/>
<rect x="243" y="424" width="1" height="14" fill="#c0c0c0"/>
<rect x="247" y="424" width="1" height="19" fill="#c0c0c0"/>
<rect x="251" y="424" width="1" height="19" fill="#c0c0c0"/>
<rect x="255" y="424" width="1" height="19" fill="#c0c0c0"/>
<rect x="259" y="424" width="1" height="19" fill="#c0c0c0"/>
<rect x="263" y="424" width="1" height="17" fill="#c0c0c0"/>
<rect x="267" y="424" width="1" height="18" fill="#c0c0c0"/>
<rect x="271" y="424" width="1" height="13" fill="#c0c0c0"/>
<rect x="275" y="424" width="1" height="10" fill="#c0c0c0"/>
<rect x="279" y="424" width="1" height="9" fill="#c0c0c0"/>
<rect x="283" y="424" width="1" height="9" fill="#c0c0c0"/>
<rect x="287" y="424" width="1" height="10" fill="#c0c0c0"/>
<rect x="291" y="424" width="1" height="16" fill="#c0c0c0"/>
<rect x="295" y="424" width="1" height="16" fill="#c0c0c0"/>
<rect x="299" y="424" width="1" height="19" fill="#c0c0c0"/>
<rect x="303" y="424" width="1" height="23" fill="#c0c0c0"/>
<rect x="307" y="424" width="1" height="25" fill="#c0c0c0"/>
<rect x="311" y="424" width="1" height="28" fill="#c0c0c0"/>
<rect x="315" y="424" width="1" height="30" fill="#c0c0c0"/>
<rect x="319" y="424" width="1" height="30" fill="#c0c0c0"/>
<rect x="323" y="424" width="1" height="25" fill="#c0c0c0"/>
<rect x="327" y="424" width="1" height="17" fill="#c0c0c0"/>
<rect x="331" y="424" width="1" height="19" fill="#c0c0c0"/>
<rect x="335" y="424" width="1" height="21" fill="#c0c0c0"/>
<rect x="339" y="424" width="1" height="21" fill="#c0c0c0"/>
<rect x="343" y="424" width="1" height="22" fill="#c0c0c0"/>
<rect x="347" y="424" width="1" height="29" fill="#c0c0c0"/>
<rect x="351" y="424" width="1" height="34" fill="#c0c0c0"/>
<rect x="355" y="424" width="1" height="40" fill="#c0c0c0"/>
<rect x="359" y="424" width="1" height="45" fill="#c0c0c0"/>
<rect x="363" y="424" width="1" height="49" fill="#c0c0c0"/>
<rect x="367" y="424" width="1" height="53" fill="#c0c0c0"/>
<rect x="371" y="424" width="1" height="57" fill="#c0c0c0"/>
<rect x="375" y="424" width="1" height="61" fill="#c0c0c0"/>
<rect x="379" y="424" width="1" height="63" fill="#c0c0c0"/>
<rect x="383" y="424" width="1" height="65" fill="#c0c0c0"/>
<rect x="387" y="424" width="1" height="68" fill="#c0c0c0"/>
<rect x="391" y="424" width="1" height="75" fill="#c0c0c0"/>
<rect x="395" y="424" width="1" height="80" fill="#c0c0c0"/>
<rect x="399" y="424" width="1" height="86" fill="#c0c0c0"/>
<rect x="403" y="424" width="1" height="93" fill="#c0c0c0"/>
<rect x="407" y="424" width="1" height="99" fill="#c0c0c0"/>
<rect x="411" y="424" width="1" height="98" fill="#c0c0c0"/>
<rect x="415" y="424" width="1" height="94" fill="#c0c0c0"/>
<rect x="419" y="424" width="1" height="90" fill="#c0c0c0"/>
<rect x="423" y="424" width="1" height="87" fill="#c0c0c0"/>
<rect x="427" y="424" width="1" height="82" fill="#c0c0c0"/>
<rect x="431" y="424" width="1" height="76" fill="#c0c0c0"/>
<rect x="435" y="424" width="1" height="72" fill="#c0c0c0"/>
<rect x="439" y="424" width="1" height="70" fill="#c0c0c0"/>
<rect x="443" y="424" width="1" height="67" fill="#c0c0c0"/>
<rect x="447" y="424" width="1" height="61" fill="#c0c0c0"/>
<rect x="451" y="424" width="1" height="57" fill="#c0c0c0"/>
<rect x="455" y="424" width="1" height="53" fill="#c0c0c0"/>
<rect x="459" y="424" width="1" height="52" fill="#c0c0c0"/>
<rect x="463" y="424" width="1" height="51" fill="#c0c0c0"/>
<rect x="467" y="424" width="1" height="50" fill="#c0c0c0"/>
<rect x="471" y="424" width="1" height="51" fill="#c0c0c0"/>
<rect x="475" y="424" width="1" height="52" fill="#c0c0c0"/>
<rect x="479" y="424" width="1" height="53" fill="#c0c0c0"/>
<rect x="483" y="424" width="1" height="56" fill="#c0c0c0"/>
<rect x="487" y="424" width="1" height="58" fill="#c0c0c0"/>
<rect x="491" y="424" width="1" height="61" fill="#c0c0c0"/>
<rect x="495" y="424" width="1" height="61" fill="#c0c0c0"/>
<rect x="499" y="424" width="1" height="62" fill="#c0c0c0"/>
<rect x="503" y="424" width="1" height="63" fill="#c0c0c0"/>
<rect x="507" y="424" width="1" height="64" fill="#c0c0c0"/>
<rect x="511" y="424" width="1" height="61" fill="#c0c0c0"/>
<rect x="515" y="424" width="1" height="61" fill="#c0c0c0"/>
<rect x="519" y="424" width="1" height="61" fill="#c0c0c0"/>
<rect x="523" y="424" width="1" height="59" fill="#c0c0c0"/>
<rect x="527" y="424" width="1" height="58" fill="#c0c0c0"/>
<rect x="531" y="424" width="1" height="57" fill="#c0c0c0"/>
<rect x="535" y="424" width="1" height="56" fill="#c0c0c0"/>
<rect x="539" y="424" width="1" height="55" fill="#c0c0c0"/>
<rect x="543" y="424" width="1" height="52" fill="#c0c0c0"/>
<rect x="547" y="424" width="1" height="49" fill="#c0c0c0"/>
<rect x="551" y="424" width="1" height="41" fill="#c0c0c0"/>
<rect x="555" y="424" width="1" height="38" fill="#c0c0c0"/>
<rect x="559" y="424" width="1" height="35" fill="#c0c0c0"/>
<rect x="563" y="424" width="1" height="33" fill="#c0c0c0"/>
<rect x="567" y="424" width="1" height="31" fill="#c0c0c0"/>
<rect x="571" y="424" width="1" height="30" fill="#c0c0c0"/>
<rect x="575" y="424" width="1" height="29" fill="#c0c0c0"/>
<rect x="579" y="424" width="1" height="26" fill="#c0c0c0"/>
<rect x="583" y="424" width="1" height="24" fill="#c0c0c0"/>
<rect x="587" y="424" width="1" height="27" fill="#c0c0c0"/>
<rect x="591" y="424" width="1" height="29" fill="#c0c0c0"/>
<rect x="595" y="424" width="1" height="31" fill="#c0c0c0"/>
<rect x="599" y="424" width="1" height="32" fill="#c0c0c0"/>
<polyline points="3.5,377.7 10.1,381.1 20.2,385.6 27.8,387.0 35.4,387.5 43.8,386.6 55.6,385.3 67.4,382.8 75.8,379.4 83.4,376.5 91.0,375.2 96.0,375.5 102.8,378.5 111.2,385.3 120.0,393.7 131.9,403.5 143.7,411.9 152.1,417.3 158.9,422.4 163.9,423.7 172.4,427.4 178.4,429.5 186.9,431.7 193.6,435.4 200.3,438.8 218.9,438.8 227.3,437.1 237.4,435.1 244.2,435.4 252.6,438.8 262.7,439.1 267.8,440.1 277.9,440.0 284.6,437.9 290.0,436.7 295.2,435.9 300.2,436.2 307.0,437.9 313.7,441.8 325.5,447.7 345.7,448.0 355.8,450.2 363.5,455.1 377.0,468.6 393.8,485.5 405.6,497.2 414.0,506.0 424.2,512.4 432.6,512.8 439.3,509.9 451.1,497.2 460.0,488.3 466.3,483.5 474.7,478.2 485.3,476.1 493.7,477.8 504.2,480.3 510.6,483.0 521.1,484.5 533.7,484.5 544.3,482.0 556.9,476.1 567.4,466.6 573.8,462.4 580.1,456.7 588.5,452.9 594.8,451.9 599.5,451.9" fill="none" stroke="#ff0000" stroke-width="2.3" stroke-linejoin="round"/>
</g>
<g clip-path="url(#c3)">
<line x1="35.5" y1="533" x2="35.5" y2="707" stroke="#c0c0c0" stroke-width="1" stroke-dasharray="3 3" stroke-dashoffset="3"/>
<line x1="67.5" y1="533" x2="67.5" y2="707" stroke="#c0c0c0" stroke-width="1" stroke-dasharray="3 3" stroke-dashoffset="3"/>
<line x1="99.5" y1="533" x2="99.5" y2="707" stroke="#c0c0c0" stroke-width="1" stroke-dasharray="3 3" stroke-dashoffset="3"/>
<line x1="131.5" y1="533" x2="131.5" y2="707" stroke="#c0c0c0" stroke-width="1" stroke-dasharray="3 3" stroke-dashoffset="3"/>
<line x1="163.5" y1="533" x2="163.5" y2="707" stroke="#c0c0c0" stroke-width="1" stroke-dasharray="3 3" stroke-dashoffset="3"/>
<line x1="195.5" y1="533" x2="195.5" y2="707" stroke="#c0c0c0" stroke-width="1" stroke-dasharray="3 3" stroke-dashoffset="3"/>
<line x1="227.5" y1="533" x2="227.5" y2="707" stroke="#c0c0c0" stroke-width="1" stroke-dasharray="3 3" stroke-dashoffset="3"/>
<line x1="259.5" y1="533" x2="259.5" y2="707" stroke="#c0c0c0" stroke-width="1" stroke-dasharray="3 3" stroke-dashoffset="3"/>
<line x1="291.5" y1="533" x2="291.5" y2="707" stroke="#c0c0c0" stroke-width="1" stroke-dasharray="3 3" stroke-dashoffset="3"/>
<line x1="323.5" y1="533" x2="323.5" y2="707" stroke="#c0c0c0" stroke-width="1" stroke-dasharray="3 3" stroke-dashoffset="3"/>
<line x1="355.5" y1="533" x2="355.5" y2="707" stroke="#c0c0c0" stroke-width="1" stroke-dasharray="3 3" stroke-dashoffset="3"/>
<line x1="387.5" y1="533" x2="387.5" y2="707" stroke="#c0c0c0" stroke-width="1" stroke-dasharray="3 3" stroke-dashoffset="3"/>
<line x1="419.5" y1="533" x2="419.5" y2="707" stroke="#c0c0c0" stroke-width="1" stroke-dasharray="3 3" stroke-dashoffset="3"/>
<line x1="451.5" y1="533" x2="451.5" y2="707" stroke="#c0c0c0" stroke-width="1" stroke-dasharray="3 3" stroke-dashoffset="3"/>
<line x1="483.5" y1="533" x2="483.5" y2="707" stroke="#c0c0c0" stroke-width="1" stroke-dasharray="3 3" stroke-dashoffset="3"/>
<line x1="515.5" y1="533" x2="515.5" y2="707" stroke="#c0c0c0" stroke-width="1" stroke-dasharray="3 3" stroke-dashoffset="3"/>
<line x1="547.5" y1="533" x2="547.5" y2="707" stroke="#c0c0c0" stroke-width="1" stroke-dasharray="3 3" stroke-dashoffset="3"/>
<line x1="579.5" y1="533" x2="579.5" y2="707" stroke="#c0c0c0" stroke-width="1" stroke-dasharray="3 3" stroke-dashoffset="3"/>
<line x1="611.5" y1="533" x2="611.5" y2="707" stroke="#c0c0c0" stroke-width="1" stroke-dasharray="3 3" stroke-dashoffset="3"/>
<line x1="643.5" y1="533" x2="643.5" y2="707" stroke="#c0c0c0" stroke-width="1" stroke-dasharray="3 3" stroke-dashoffset="3"/>
<line x1="3" y1="568.5" x2="674" y2="568.5" stroke="#c0c0c0" stroke-width="1" stroke-dasharray="3 3" stroke-dashoffset="5"/>
<line x1="3" y1="672.5" x2="674" y2="672.5" stroke="#c0c0c0" stroke-width="1" stroke-dasharray="3 3" stroke-dashoffset="5"/>
<line x1="3" y1="706.5" x2="674" y2="706.5" stroke="#c0c0c0" stroke-width="1" stroke-dasharray="3 3" stroke-dashoffset="5"/>
<polyline points="3.5,594.1 7.5,609.5 11.5,635.6 15.5,624.4 19.5,602.0 23.5,577.2 27.5,562.3 31.5,556.1 35.5,553.6 39.5,554.8 43.5,559.3 47.5,564.8 51.5,569.3 55.5,568.5 59.5,561.1 63.5,551.9 67.5,546.9 71.5,546.1 75.5,547.4 79.5,552.4 83.5,563.5 87.5,580.9 91.5,599.6 95.5,610.7 99.5,617.0 103.5,624.4 107.5,633.1 111.5,641.8 115.5,648.0 119.5,651.7 123.5,650.5 127.5,653.0 131.5,660.4 135.5,662.9 139.5,655.5 143.5,646.8 147.5,645.5 151.5,651.7 155.5,658.0 159.5,660.4 163.5,660.4 167.5,658.4 171.5,658.7 175.5,659.2 179.5,664.2 183.5,667.9 187.5,676.6 191.5,685.3 195.5,687.8 199.5,680.3 203.5,659.2 207.5,629.4 211.5,597.1 215.5,579.7 219.5,584.7 223.5,606.0 227.5,635.5 231.5,643.0 235.5,639.3 239.5,634.3 243.5,640.6 247.5,656.7 251.5,664.2 255.5,659.2 259.5,641.8 263.5,625.7 267.5,619.4 271.5,612.0 275.5,604.5 279.5,585.9 283.5,579.7 287.5,583.4 291.5,599.6 295.5,619.4 299.5,640.6 303.5,665.4 307.5,678.6 311.5,687.0 315.5,687.8 319.5,689.0 323.5,682.8 327.5,669.1 331.5,653.0 335.5,642.5 339.5,640.6 343.5,649.3 347.5,667.9 351.5,685.3 355.5,695.2 359.5,698.9 363.5,696.5 367.5,690.2 371.5,682.0 375.5,676.6 379.5,676.6 383.5,680.8 387.5,686.0 391.5,689.0 395.5,690.2 399.5,689.5 403.5,691.0 407.5,695.2 411.5,697.0 415.5,690.2 419.5,675.3 423.5,659.2 427.5,648.0 431.5,640.6 435.5,633.9 439.5,629.9 443.5,628.1 447.5,618.2 451.5,597.1 455.5,576.0 459.5,573.5 463.5,589.6 467.5,618.2 471.5,648.0 475.5,666.6 479.5,679.1 483.5,682.0 487.5,677.8 491.5,673.6 495.5,672.9 499.5,681.6 503.5,689.0 507.5,692.0 511.5,686.5 515.5,676.6 519.5,667.9 523.5,667.9 527.5,671.6 531.5,677.8 535.5,677.0 539.5,674.6 543.5,669.2 547.5,657.8 551.5,637.0 555.5,615.8 559.5,599.6 563.5,596.3 567.5,598.3 571.5,610.2 575.5,617.6 579.5,621.8 583.5,617.6 587.5,619.9 591.5,631.5 595.5,650.8 599.5,665.3" fill="none" stroke="#ff0000" stroke-width="1" stroke-dasharray="3 3"/>
<polyline points="3.5,621.9 7.5,645.5 11.5,641.8 15.5,602.0 19.5,568.5 23.5,559.8 27.5,554.3 31.5,552.4 35.5,554.3 39.5,558.6 43.5,564.8 47.5,570.2 51.5,572.2 55.5,561.0 59.5,549.9 63.5,544.4 67.5,544.9 71.5,547.9 75.5,549.9 79.5,557.3 83.5,582.2 87.5,602.0 91.5,613.2 95.5,615.7 99.5,623.2 103.5,631.9 107.5,644.3 111.5,649.3 115.5,654.2 119.5,647.3 123.5,649.3 127.5,660.4 131.5,668.6 135.5,659.2 139.5,637.3 143.5,643.0 147.5,654.2 151.5,659.2 155.5,661.7 159.5,661.7 163.5,658.0 167.5,655.5 171.5,662.9 175.5,659.2 179.5,670.4 183.5,672.9 187.5,687.8 191.5,693.5 195.5,681.6 199.5,666.6 203.5,629.4 207.5,592.1 211.5,569.8 215.5,576.0 219.5,609.5 223.5,639.3 227.5,653.0 231.5,636.8 235.5,628.1 239.5,636.8 243.5,656.7 247.5,676.6 251.5,659.2 255.5,641.8 259.5,621.9 263.5,613.2 267.5,621.9 271.5,602.0 275.5,589.6 279.5,566.0 283.5,583.4 287.5,602.0 291.5,613.2 295.5,644.3 299.5,664.2 303.5,687.0 307.5,684.0 311.5,690.2 315.5,689.0 319.5,689.0 323.5,670.4 327.5,649.3 331.5,637.3 335.5,638.1 339.5,644.3 343.5,669.1 347.5,689.0 351.5,697.7 355.5,699.4 359.5,698.9 363.5,691.5 367.5,681.6 371.5,672.9 375.5,675.3 379.5,680.3 383.5,686.5 387.5,691.5 391.5,691.0 395.5,689.0 399.5,688.5 403.5,695.2 407.5,703.9 411.5,694.0 415.5,674.1 419.5,656.7 423.5,646.8 427.5,641.8 431.5,631.9 435.5,628.1 439.5,629.9 443.5,626.3 447.5,597.1 451.5,567.3 455.5,562.3 459.5,587.1 463.5,619.4 467.5,649.3 471.5,673.6 475.5,679.1 479.5,685.3 483.5,682.8 487.5,666.1 491.5,672.9 495.5,679.1 499.5,691.5 503.5,694.5 507.5,690.2 511.5,674.1 515.5,666.1 519.5,662.2 523.5,675.3 527.5,677.8 531.5,679.1 535.5,674.1 539.5,671.6 543.5,662.0 547.5,642.5 551.5,607.2 555.5,597.4 559.5,588.5 563.5,602.9 567.5,600.6 571.5,626.3 575.5,624.7 579.5,617.0 583.5,609.9 587.5,633.4 591.5,652.8 595.5,670.1 599.5,678.3" fill="none" stroke="#20B2AA" stroke-width="1" />
</g>
<rect x="2" y="2" width="673" height="1" fill="#000" />
<rect x="2" y="357" width="673" height="1" fill="#000" />
<rect x="2" y="359" width="673" height="1" fill="#000" />
<rect x="2" y="530" width="673" height="1" fill="#000" />
<rect x="2" y="532" width="673" height="1" fill="#000" />
<rect x="2" y="707" width="673" height="1" fill="#000" />
<rect x="2" y="2" width="1" height="356" fill="#000"/>
<rect x="2" y="359" width="1" height="172" fill="#000"/>
<rect x="2" y="532" width="1" height="176" fill="#000"/>
<rect x="674" y="2" width="1" height="356" fill="#000"/>
<rect x="674" y="359" width="1" height="172" fill="#000"/>
<rect x="674" y="532" width="1" height="176" fill="#000"/>
<rect x="675" y="35" width="2" height="1" fill="#000" />
<rect x="675" y="67" width="2" height="1" fill="#000" />
<rect x="675" y="99" width="2" height="1" fill="#000" />
<rect x="675" y="131" width="2" height="1" fill="#000" />
<rect x="675" y="163" width="2" height="1" fill="#000" />
<rect x="675" y="195" width="2" height="1" fill="#000" />
<rect x="675" y="227" width="2" height="1" fill="#000" />
<rect x="675" y="259" width="2" height="1" fill="#000" />
<rect x="675" y="291" width="2" height="1" fill="#000" />
<rect x="675" y="323" width="2" height="1" fill="#000" />
<rect x="675" y="355" width="2" height="1" fill="#000" />
<rect x="675" y="361" width="2" height="1" fill="#000" />
<rect x="675" y="424" width="2" height="1" fill="#000" />
<rect x="675" y="529" width="2" height="1" fill="#000" />
<rect x="675" y="534" width="2" height="1" fill="#000" />
<rect x="675" y="568" width="2" height="1" fill="#000" />
<rect x="675" y="672" width="2" height="1" fill="#000" />
<rect x="675" y="706" width="2" height="1" fill="#000" />
<rect x="3" y="708" width="1" height="3" fill="#000"/>
<rect x="67" y="708" width="1" height="3" fill="#000"/>
<rect x="131" y="708" width="1" height="3" fill="#000"/>
<rect x="195" y="708" width="1" height="3" fill="#000"/>
<rect x="259" y="708" width="1" height="3" fill="#000"/>
<rect x="323" y="708" width="1" height="3" fill="#000"/>
<rect x="387" y="708" width="1" height="3" fill="#000"/>
<rect x="451" y="708" width="1" height="3" fill="#000"/>
<rect x="515" y="708" width="1" height="3" fill="#000"/>
<rect x="579" y="708" width="1" height="3" fill="#000"/>
<g font-family="Liberation Sans, sans-serif" font-size="8.8px" fill="#000" stroke="#000" stroke-width="0.12" text-rendering="geometricPrecision" shape-rendering="auto">
<text x="7" y="13.6" textLength="54" lengthAdjust="spacingAndGlyphs">GBPUSD,H4</text>
<text x="67.6" y="13.6" textLength="32" lengthAdjust="spacingAndGlyphs">1.56195</text>
<text x="103.64999999999999" y="13.6" textLength="32" lengthAdjust="spacingAndGlyphs">1.56233</text>
<text x="139.7" y="13.6" textLength="32" lengthAdjust="spacingAndGlyphs">1.56078</text>
<text x="175.75" y="13.6" textLength="32" lengthAdjust="spacingAndGlyphs">1.56142</text>
<text x="8" y="372.7" textLength="64.8" lengthAdjust="spacingAndGlyphs">MACD(12,26,9)</text>
<text x="76.2" y="372.7" textLength="40.4" lengthAdjust="spacingAndGlyphs">-0.002643</text>
<text x="120.2" y="372.7" textLength="40.4" lengthAdjust="spacingAndGlyphs">-0.002281</text>
<text x="7.5" y="545.5" textLength="54" lengthAdjust="spacingAndGlyphs">Stoch(13,3,3)</text>
<text x="65.5" y="545.5" textLength="32" lengthAdjust="spacingAndGlyphs">16.0550</text>
<text x="101.5" y="545.5" textLength="32.5" lengthAdjust="spacingAndGlyphs">22.1805</text>
<text x="5" y="703.3" stroke="none" textLength="267" lengthAdjust="spacingAndGlyphs" font-size="11px">FxPro MT4, © 2001-2012, MetaQuotes Software Corp.</text>
<text x="2.2" y="719.6" font-size="9.3px">25 Apr 2012</text>
<text x="66.2" y="719.6" font-size="9.3px">30 Apr 00:00</text>
<text x="130.2" y="719.6" font-size="9.3px">2 May 16:00</text>
<text x="194.2" y="719.6" font-size="9.3px">7 May 08:00</text>
<text x="258.2" y="719.6" font-size="9.3px">10 May 00:00</text>
<text x="322.2" y="719.6" font-size="9.3px">14 May 16:00</text>
<text x="386.2" y="719.6" font-size="9.3px">17 May 08:00</text>
<text x="450.2" y="719.6" font-size="9.3px">22 May 00:00</text>
<text x="514.2" y="719.6" font-size="9.3px">24 May 16:00</text>
<text x="578.2" y="719.6" font-size="9.3px">29 May 08:00</text>
<g clip-path="url(#cr)">
<text x="680.8" y="38.3" textLength="32.6" lengthAdjust="spacingAndGlyphs">1.62680</text>
<text x="680.8" y="70.3" textLength="32.6" lengthAdjust="spacingAndGlyphs">1.62005</text>
<text x="680.8" y="102.3" textLength="32.6" lengthAdjust="spacingAndGlyphs">1.61330</text>
<text x="680.8" y="134.3" textLength="32.6" lengthAdjust="spacingAndGlyphs">1.60655</text>
<text x="680.8" y="166.3" textLength="32.6" lengthAdjust="spacingAndGlyphs">1.59980</text>
<text x="680.8" y="198.3" textLength="32.6" lengthAdjust="spacingAndGlyphs">1.59305</text>
<text x="680.8" y="230.3" textLength="32.6" lengthAdjust="spacingAndGlyphs">1.58630</text>
<text x="680.8" y="262.3" textLength="32.6" lengthAdjust="spacingAndGlyphs">1.57955</text>
<text x="680.8" y="294.3" textLength="32.6" lengthAdjust="spacingAndGlyphs">1.57280</text>
<text x="680.8" y="326.3" textLength="32.6" lengthAdjust="spacingAndGlyphs">1.56605</text>
<text x="680.8" y="358.3" textLength="32.6" lengthAdjust="spacingAndGlyphs">1.55930</text>
<text x="678.2" y="369.9" textLength="37.6" lengthAdjust="spacingAndGlyphs">0.005114</text>
<text x="678.2" y="427.4" textLength="18" lengthAdjust="spacingAndGlyphs">0.00</text>
<text x="678" y="527.2" textLength="40.8" lengthAdjust="spacingAndGlyphs">-0.008582</text>
<text x="678.2" y="543.2">100</text>
<text x="678.2" y="571.4">80</text>
<text x="678.2" y="675.5">20</text>
<text x="678.2" y="703.9">0</text>
<rect x="676" y="339" width="36" height="11" fill="#000" stroke="none" shape-rendering="crispEdges"/>
<text x="680.8" y="348.6" fill="#fff" stroke="#fff">1.56142</text>
<rect x="676" y="15" width="36" height="11" fill="#008080" stroke="none" shape-rendering="crispEdges"/>
<text x="680.8" y="24.3" fill="#fff" stroke="#fff" textLength="32.6" lengthAdjust="spacingAndGlyphs">1.63000</text>
<rect x="676" y="22" width="36" height="11" fill="#008080" stroke="none" shape-rendering="crispEdges"/>
<text x="680.8" y="31.3" fill="#fff" stroke="#fff" textLength="32.6" lengthAdjust="spacingAndGlyphs">1.62850</text>
<rect x="676" y="36" width="36" height="11" fill="#008080" stroke="none" shape-rendering="crispEdges"/>
<text x="680.8" y="45.3" fill="#fff" stroke="#fff" textLength="32.6" lengthAdjust="spacingAndGlyphs">1.62550</text>
<rect x="676" y="48" width="36" height="11" fill="#008080" stroke="none" shape-rendering="crispEdges"/>
<text x="680.8" y="57.3" fill="#fff" stroke="#fff" textLength="32.6" lengthAdjust="spacingAndGlyphs">1.62300</text>
<rect x="676" y="59" width="36" height="11" fill="#008080" stroke="none" shape-rendering="crispEdges"/>
<text x="680.8" y="68.3" fill="#fff" stroke="#fff" textLength="32.6" lengthAdjust="spacingAndGlyphs">1.62050</text>
<rect x="676" y="69" width="36" height="11" fill="#008080" stroke="none" shape-rendering="crispEdges"/>
<text x="680.8" y="78.3" fill="#fff" stroke="#fff" textLength="32.6" lengthAdjust="spacingAndGlyphs">1.61850</text>
<rect x="676" y="88" width="36" height="11" fill="#008080" stroke="none" shape-rendering="crispEdges"/>
<text x="680.8" y="97.3" fill="#fff" stroke="#fff" textLength="32.6" lengthAdjust="spacingAndGlyphs">1.61450</text>
<rect x="676" y="107" width="36" height="11" fill="#008080" stroke="none" shape-rendering="crispEdges"/>
<text x="680.8" y="116.3" fill="#fff" stroke="#fff" textLength="32.6" lengthAdjust="spacingAndGlyphs">1.61050</text>
<rect x="676" y="118" width="36" height="11" fill="#008080" stroke="none" shape-rendering="crispEdges"/>
<text x="680.8" y="127.3" fill="#fff" stroke="#fff" textLength="32.6" lengthAdjust="spacingAndGlyphs">1.60800</text>
<rect x="676" y="130" width="36" height="11" fill="#008080" stroke="none" shape-rendering="crispEdges"/>
<text x="680.8" y="139.3" fill="#fff" stroke="#fff" textLength="32.6" lengthAdjust="spacingAndGlyphs">1.60550</text>
<rect x="676" y="147" width="36" height="11" fill="#008080" stroke="none" shape-rendering="crispEdges"/>
<text x="680.8" y="156.3" fill="#fff" stroke="#fff" textLength="32.6" lengthAdjust="spacingAndGlyphs">1.60200</text>
<rect x="676" y="163" width="36" height="11" fill="#008080" stroke="none" shape-rendering="crispEdges"/>
<text x="680.8" y="172.3" fill="#fff" stroke="#fff" textLength="32.6" lengthAdjust="spacingAndGlyphs">1.59850</text>
<rect x="676" y="173" width="36" height="11" fill="#008080" stroke="none" shape-rendering="crispEdges"/>
<text x="680.8" y="182.3" fill="#fff" stroke="#fff" textLength="32.6" lengthAdjust="spacingAndGlyphs">1.59650</text>
<rect x="676" y="185" width="36" height="11" fill="#008080" stroke="none" shape-rendering="crispEdges"/>
<text x="680.8" y="194.3" fill="#fff" stroke="#fff" textLength="32.6" lengthAdjust="spacingAndGlyphs">1.59400</text>
<rect x="676" y="204" width="36" height="11" fill="#008080" stroke="none" shape-rendering="crispEdges"/>
<text x="680.8" y="213.3" fill="#fff" stroke="#fff" textLength="32.6" lengthAdjust="spacingAndGlyphs">1.59000</text>
<rect x="676" y="213" width="36" height="11" fill="#008080" stroke="none" shape-rendering="crispEdges"/>
<text x="680.8" y="222.3" fill="#fff" stroke="#fff" textLength="32.6" lengthAdjust="spacingAndGlyphs">1.58800</text>
<rect x="676" y="232" width="36" height="11" fill="#008080" stroke="none" shape-rendering="crispEdges"/>
<text x="680.8" y="241.3" fill="#fff" stroke="#fff" textLength="32.6" lengthAdjust="spacingAndGlyphs">1.58400</text>
<rect x="676" y="244" width="36" height="11" fill="#008080" stroke="none" shape-rendering="crispEdges"/>
<text x="680.8" y="253.3" fill="#fff" stroke="#fff" textLength="32.6" lengthAdjust="spacingAndGlyphs">1.58150</text>
<rect x="676" y="258" width="36" height="11" fill="#008080" stroke="none" shape-rendering="crispEdges"/>
<text x="680.8" y="267.3" fill="#fff" stroke="#fff" textLength="32.6" lengthAdjust="spacingAndGlyphs">1.57850</text>
<rect x="676" y="282" width="36" height="11" fill="#008080" stroke="none" shape-rendering="crispEdges"/>
<text x="680.8" y="291.3" fill="#fff" stroke="#fff" textLength="32.6" lengthAdjust="spacingAndGlyphs">1.57350</text>
<rect x="676" y="274" width="36" height="11" fill="#008080" stroke="none" shape-rendering="crispEdges"/>
<text x="680.8" y="283.3" fill="#fff" stroke="#fff" textLength="32.6" lengthAdjust="spacingAndGlyphs">1.57500</text>
<rect x="676" y="293" width="36" height="11" fill="#008080" stroke="none" shape-rendering="crispEdges"/>
<text x="680.8" y="302.3" fill="#fff" stroke="#fff" textLength="32.6" lengthAdjust="spacingAndGlyphs">1.57100</text>
<rect x="676" y="312" width="36" height="11" fill="#008080" stroke="none" shape-rendering="crispEdges"/>
<text x="680.8" y="321.3" fill="#fff" stroke="#fff" textLength="32.6" lengthAdjust="spacingAndGlyphs">1.56700</text>
<rect x="676" y="326" width="36" height="11" fill="#008080" stroke="none" shape-rendering="crispEdges"/>
<text x="680.8" y="335.3" fill="#fff" stroke="#fff" textLength="32.6" lengthAdjust="spacingAndGlyphs">1.56400</text>
<rect x="676" y="341" width="36" height="11" fill="#008080" stroke="none" shape-rendering="crispEdges"/>
<text x="680.8" y="350.3" fill="#fff" stroke="#fff" textLength="32.6" lengthAdjust="spacingAndGlyphs">1.56100</text>
</g>
</g>
</svg>
</body></html>
